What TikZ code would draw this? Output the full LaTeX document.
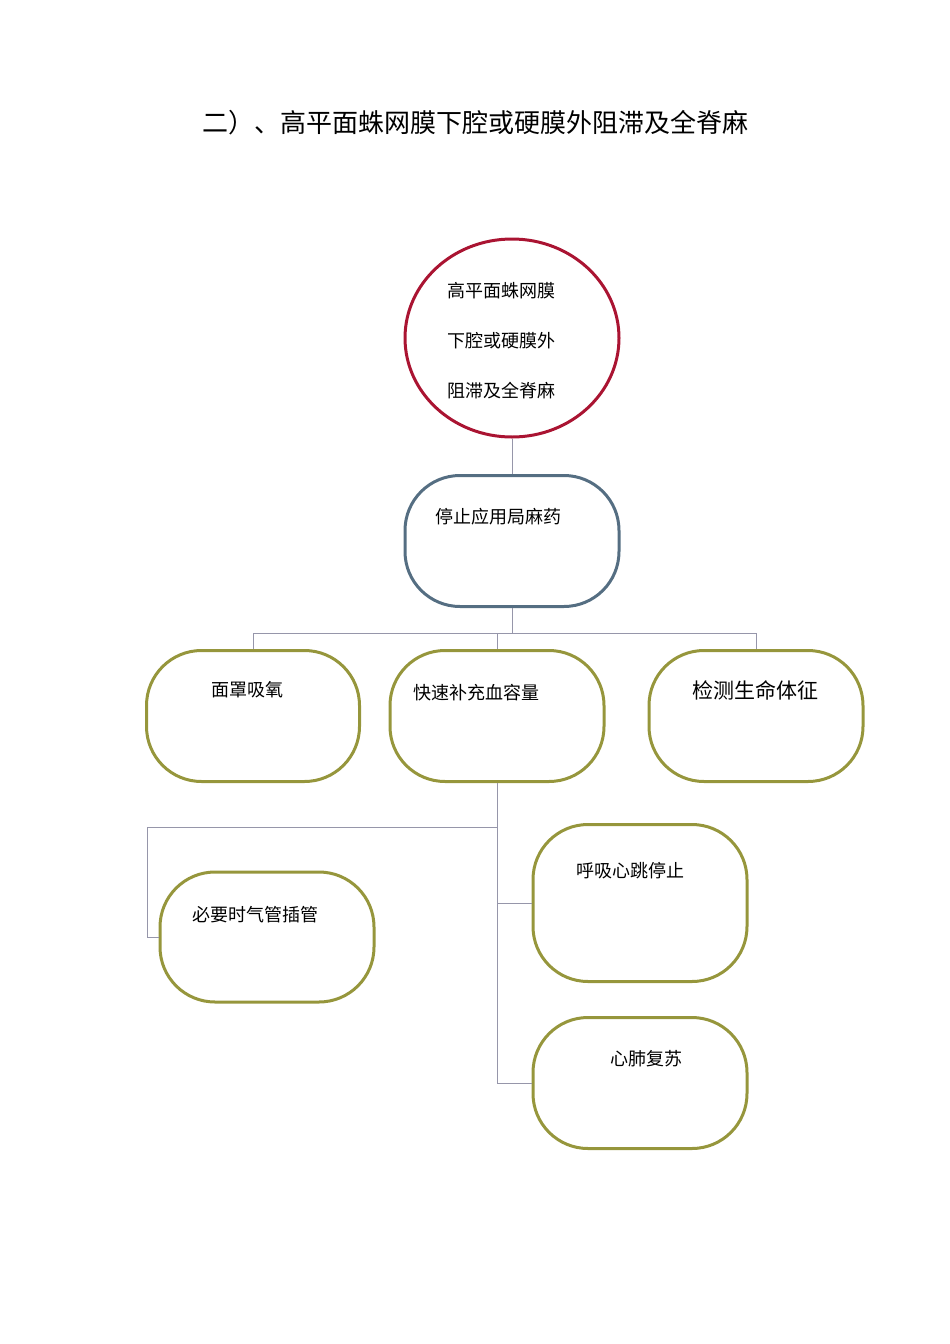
\documentclass[tikz,border=0pt]{standalone}
\usepackage{fontspec}
\usetikzlibrary{shapes.geometric}
\setmainfont{Noto Sans CJK SC}
\begin{document}
\begin{tikzpicture}[x=1pt,y=-1pt,
  box/.style={draw,line width=3pt,rounded corners=55pt,inner sep=0pt},
  olive/.style={box,draw={rgb,255:red,150;green,150;blue,60}},
  lbl/.style={font=\fontsize{18}{20}\selectfont,anchor=west},
  conn/.style={draw={rgb,255:red,150;green,150;blue,170},line width=1pt}]
\useasboundingbox (0,0) rectangle (950,1344);
\node[font=\fontsize{26}{30}\selectfont] (title) at (475,123) {二）、高平面蛛网膜下腔或硬膜外阻滞及全脊麻};
\node[draw={rgb,255:red,170;green,20;blue,50},line width=3pt,ellipse,minimum width=214pt,minimum height=198pt,inner sep=0pt] (c) at (512,338) {};
\node[lbl] at (444,291) {高平面蛛网膜};
\node[lbl] at (444,341) {下腔或硬膜外};
\node[lbl] at (444,391) {阻滞及全脊麻};
\node[box,draw={rgb,255:red,85;green,110;blue,130},minimum width=214pt,minimum height=131pt] (s) at (512,541) {};
\node[lbl] at (432,517) {停止应用局麻药};
\node[olive,minimum width=213pt,minimum height=131pt] (a) at (253,716) {};
\node[lbl] at (208,690) {面罩吸氧};
\node[olive,minimum width=214pt,minimum height=131pt] (b) at (497,716) {};
\node[lbl] at (410,693) {快速补充血容量};
\node[olive,minimum width=214pt,minimum height=131pt] (d) at (756,716) {};
\node[lbl,font=\fontsize{21}{24}\selectfont] at (689,690) {检测生命体征};
\node[olive,minimum width=214pt,minimum height=130pt] (e) at (267,937) {};
\node[lbl] at (189,915) {必要时气管插管};
\node[olive,minimum width=214pt,minimum height=157pt] (f) at (640,903) {};
\node[lbl] at (573,871) {呼吸心跳停止};
\node[olive,minimum width=214pt,minimum height=131pt] (g) at (640,1083) {};
\node[lbl] at (607,1059) {心肺复苏};
\coordinate (j1) at (512,633);
\draw[conn] (c.south) -- (s.north);
\draw[conn] (s.south) -- (j1);
\draw[conn] (a.north) -- (253,633) -- (756,633) -- (d.north);
\draw[conn] (b.north) -- (497,633);
\draw[conn] (b.south) -- (497,1083) -- (g.west);
\draw[conn] (497,903) -- (f.west);
\draw[conn] (497,827) -- (147,827) -- (147,937) -- (e.west);
\end{tikzpicture}
\end{document}
